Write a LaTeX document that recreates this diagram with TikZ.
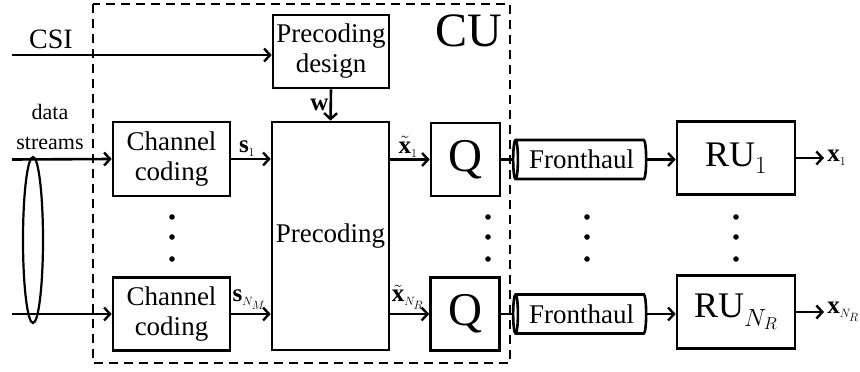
\documentclass[tikz,border=0pt]{standalone}
\usepackage{fontspec}
\setmainfont{Liberation Serif}
\usetikzlibrary{arrows.meta,shapes.geometric,positioning}
\tikzset{
    blockbox/.style={
        draw,
        line width=2.6pt,
        align=center,
        inner sep=0pt,
        font=\fontsize{27}{30}\selectfont
    },
    % arrows between the blocks
    linkarrow/.style={
        line width=2.6pt,
        -{Straight Barb[length=6pt, width=13pt, line width=2.4pt]}
    },
    haulpipe/.style={
        cylinder,
        shape border rotate=180,
        draw,
        line width=2.6pt,
        aspect=0.25,
        minimum width=39pt,
        minimum height=133pt,
        inner sep=0pt,
        font=\fontsize{27}{28}\selectfont
    },
    siglabel/.style={font=\fontsize{25}{26}\selectfont, inner sep=1pt}
}

\begin{document}
\begin{tikzpicture}[x=1pt,y=-1pt]
    \useasboundingbox (0,0) rectangle (860,372);
    % central unit
    \draw[line width=2.6pt, dash pattern=on 9pt off 6pt] (93,4) rectangle (510,363);
    \node[font=\fontsize{48}{48}\selectfont] (cu) at (469,31) {CU};

    \node[blockbox, minimum width=116, minimum height=73] (design) at (331,51.5) {Precoding\\design};
    \node[blockbox, minimum width=117, minimum height=228] (precod) at (330.5,236) {Precoding};
    \node[blockbox, minimum width=117, minimum height=74] (code1) at (171.5,159) {Channel\\coding};
    \node[blockbox, minimum width=117, minimum height=73] (code2) at (171.5,314) {Channel\\coding};
    \node[blockbox, minimum width=69, minimum height=73, font=\fontsize{47}{47}\selectfont] (q1) at (465.5,159.5) {Q};
    \node[blockbox, minimum width=69, minimum height=73, font=\fontsize{47}{47}\selectfont] (q2) at (465,314) {Q};
    \node[haulpipe] (fh1) at (581.5,159.5) {Fronthaul};
    \node[haulpipe] (fh2) at (581.5,314) {Fronthaul};
    \node[blockbox, minimum width=118, minimum height=73, font=\fontsize{36}{38}\selectfont] (ru1) at (736,158) {RU$_1$};
    \node[blockbox, minimum width=118, minimum height=73, font=\fontsize{36}{38}\selectfont] (ru2) at (736,312) {RU$_{N_R}$};

    \coordinate (csi) at (12,55);
    \coordinate (in1) at (12,159.5);
    \coordinate (in2) at (12,314);
    \coordinate (out1) at (824,158);
    \coordinate (out2) at (824,312);

    \draw[linkarrow] (csi) -- (csi -| design.west)
        node[pos=0.15, above=2pt, font=\fontsize{28}{28}\selectfont] (csilab) {CSI};
    \draw[linkarrow] (design.south) -- (precod.north)
        node[midway, left, siglabel] (wlab) {$\mathbf{w}$};
    \draw[linkarrow] (in1) -- (code1.west);
    \draw[linkarrow] (in2) -- (code2.west);
    \node[font=\fontsize{22}{30}\selectfont, align=center] (datalab) at (50,127) {data\\streams};
    \draw[line width=2.2pt] (33,240) ellipse (10 and 83);

    \draw[linkarrow] (code1.east) -- (code1.east -| precod.west)
        node[pos=0.4, above, siglabel] (s1) {$\mathbf{s}_{\scriptscriptstyle 1}$};
    \draw[linkarrow] (code2.east) -- (code2.east -| precod.west)
        node[pos=0.45, above=2pt, siglabel] (s2) {$\mathbf{s}_{\scriptscriptstyle N_M}$};
    \draw[linkarrow] (q1.west -| precod.east) -- (q1.west)
        node[pos=0.45, above, siglabel] (xt1) {$\tilde{\mathbf{x}}_{\scriptscriptstyle 1}$};
    \draw[linkarrow] (q2.west -| precod.east) -- (q2.west)
        node[pos=0.45, above=2pt, siglabel] (xt2) {$\tilde{\mathbf{x}}_{\scriptscriptstyle N_R}$};

    \draw[line width=2.6pt] (q1.east) -- (fh1.top);
    \draw[line width=2.6pt] (q2.east) -- (fh2.top);
    \draw[linkarrow] (fh1.bottom) -- (ru1.west |- fh1.bottom);
    \draw[linkarrow] (fh2.bottom) -- (ru2.west |- fh2.bottom);
    \draw[linkarrow] (ru1.east) -- (out1)
        node[right=1pt, siglabel] (x1) {$\mathbf{x}_{\scriptscriptstyle 1}$};
    \draw[linkarrow] (ru2.east) -- (out2)
        node[right=1pt, siglabel] (x2) {$\mathbf{x}_{\scriptscriptstyle N_R}$};

    % vertical dots
    \foreach \dx in {172,488,587,736}
        \foreach \dy in {217,237,259}
            \fill (\dx,\dy) circle (2.8);
\end{tikzpicture}
\end{document}
